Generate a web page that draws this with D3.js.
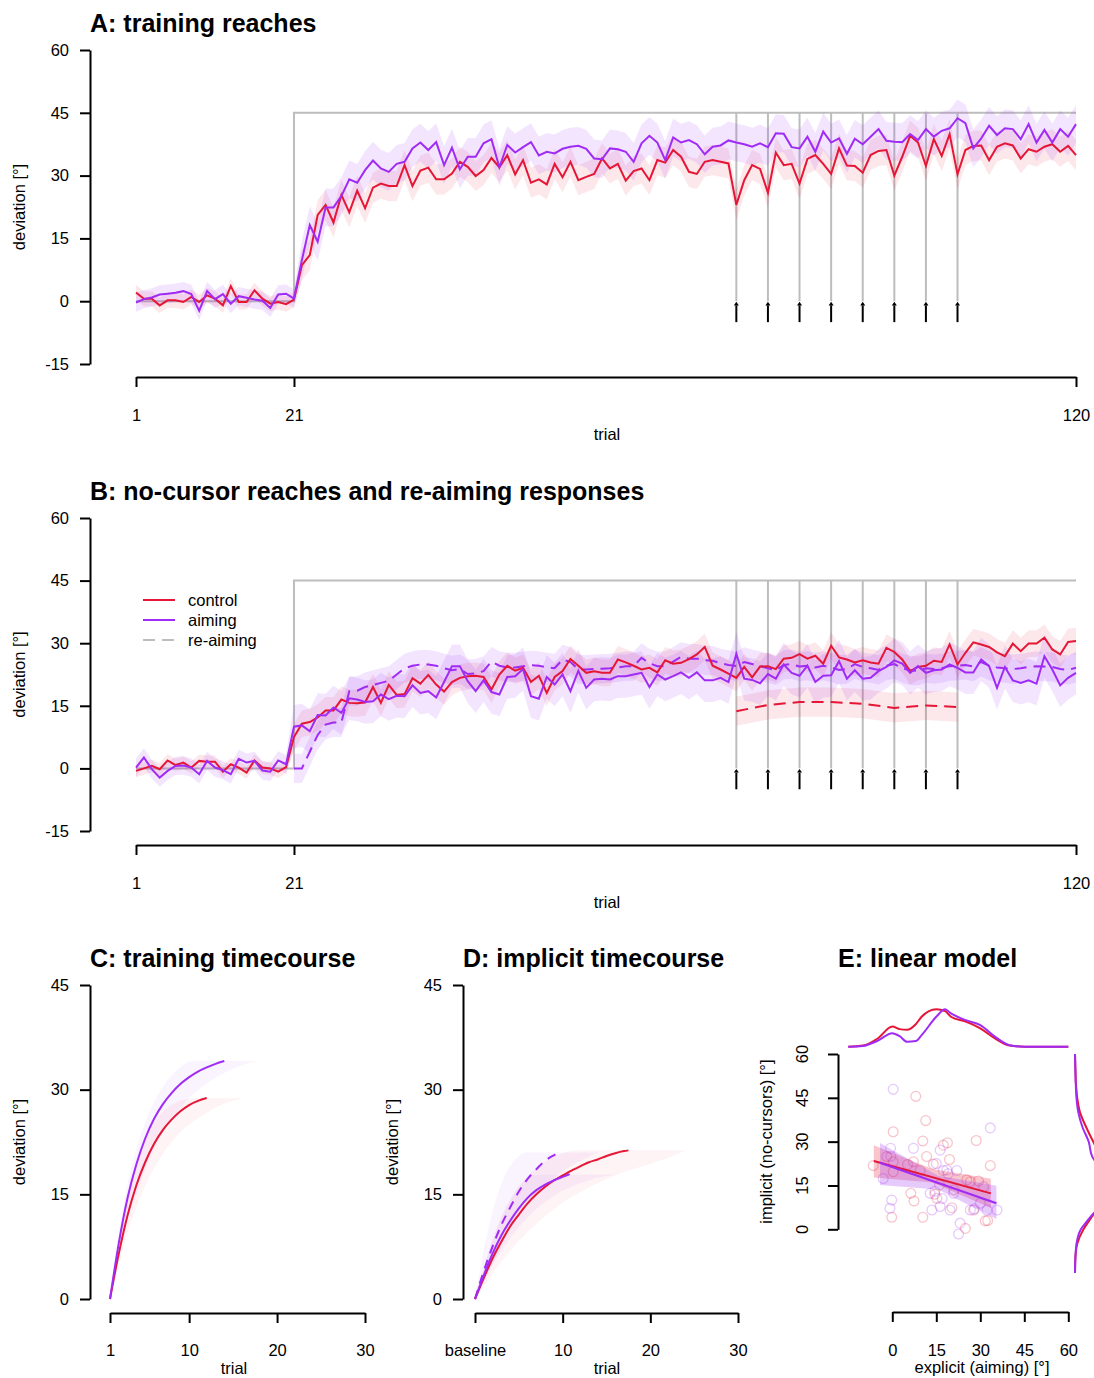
<!DOCTYPE html>
<html>
<head>
<meta charset="utf-8">
<script src="https://cdn.jsdelivr.net/npm/d3@7"></script>
<style>
body { margin: 0; background: #fff; }
svg { font-family: "Liberation Sans", Arial, Helvetica, sans-serif; }
</style>
</head>
<body>
<script>
var colRed = '#e51636', colPurple = '#a02bf5', colGrey = '#bdbdbd';

// ---- panels A & B: trial by trial ----
var trials = d3.range(1, 121);
var scheduleTrials = [1, 21, 21, 120];
var scheduleValues = [0, 0, 45, 45];
var probeTrials = [77, 81, 85, 89, 93, 97, 101, 105];

var redA = [2.1, 0.6, 0.6, -1.0, 0.2, 0.2, -0.2, 1.0, -0.2, 1.4, 0.6, -1.0, 3.6, -0.2, -0.2, 2.6, 0.6, -0.6, -0.2, -0.7,
  0.4, 8.6, 11.0, 20.6, 23.0, 18.8, 25.4, 21.2, 26.4, 22.2, 27.1, 28.1, 27.5, 27.5, 32.5, 27.5, 31.2, 31.9, 29.1, 29.1,
  30.5, 33.3, 32.1, 29.9, 31.3, 34.2, 32.0, 34.9, 30.3, 33.7, 28.3, 29.1, 27.9, 32.8, 29.6, 33.3, 28.9, 29.7, 30.4, 34.1,
  31.7, 32.8, 28.8, 31.1, 31.7, 28.9, 33.7, 33.1, 36.1, 34.5, 30.9, 30.4, 33.3, 33.7, 33.3, 32.9, 23.0, 28.9, 32.5, 31.6,
  25.9, 35.5, 32.5, 32.8, 28.1, 34.0, 34.9, 32.8, 30.4, 36.5, 32.4, 32.3, 30.7, 34.9, 35.9, 36.1, 30.0, 34.5, 39.5, 37.9,
  32.3, 38.7, 34.7, 39.9, 30.3, 36.1, 37.1, 37.2, 33.7, 36.9, 37.7, 37.2, 34.1, 36.3, 35.7, 36.9, 37.5, 35.7, 37.1, 34.9];
var purpleA = [-0.3, 0.5, 0.9, 1.6, 1.8, 2.0, 2.4, 1.7, -2.3, 2.4, 0.5, 1.7, -0.6, 1.2, 0.8, 0.4, 0.1, -1.6, 1.6, 1.8,
  0.6, 9.8, 18.2, 14.2, 22.4, 22.4, 25.1, 29.1, 28.3, 31.3, 33.6, 31.7, 30.9, 32.8, 33.3, 36.5, 37.9, 36.1, 38.0, 32.5,
  36.7, 31.5, 34.5, 34.5, 37.7, 38.7, 32.0, 37.3, 35.5, 36.8, 38.0, 34.8, 35.7, 35.3, 36.4, 36.9, 37.1, 36.4, 34.1, 33.9,
  36.5, 36.3, 35.7, 33.3, 37.7, 39.5, 37.9, 33.7, 39.1, 37.9, 38.5, 37.5, 35.1, 36.9, 37.2, 38.4, 37.9, 37.5, 36.9, 37.7,
  36.8, 40.1, 40.0, 36.8, 36.5, 39.3, 35.7, 40.5, 37.9, 38.9, 35.2, 38.8, 37.5, 39.3, 41.1, 38.3, 38.1, 38.0, 39.9, 38.5,
  41.1, 39.3, 40.7, 41.3, 43.7, 42.5, 36.5, 38.9, 41.9, 39.7, 41.3, 41.1, 38.7, 42.3, 37.9, 40.9, 37.9, 41.1, 39.3, 42.3];

var redB = [-0.6, 0, 0.6, -0.2, 1.9, 0.8, 1.4, 0.2, 1.8, 1.6, 1.6, -0.8, 1.0, 0.2, -1.0, 1.9, 0.2, 0, -0.8, 0.3,
  7.5, 10.7, 11.1, 12.2, 13.9, 13.9, 16.5, 15.7, 15.6, 15.8, 19.5, 15.7, 20.0, 17.6, 17.8, 21.6, 20.3, 22.4, 20.1, 18.4,
  20.7, 21.7, 22.1, 22.2, 21.9, 18.9, 22.5, 24.6, 23.4, 24.1, 20.7, 22.2, 18.1, 21.9, 23.3, 26.2, 24.6, 22.9, 23.3, 22.9,
  22.9, 26.1, 25.4, 24.6, 23.7, 24.1, 23.0, 25.9, 25.1, 25.3, 26.2, 27.3, 29.1, 24.6, 23.7, 22.7, 21.7, 24.3, 21.8, 24.4,
  24.5, 23.8, 26.3, 26.5, 27.4, 26.3, 27.0, 25.1, 29.4, 26.6, 26.1, 25.4, 25.9, 25.4, 25.1, 28.9, 27.9, 26.1, 23.3, 24.3,
  24.6, 25.8, 25.5, 29.7, 24.9, 27.7, 30.2, 29.7, 29.1, 27.8, 26.9, 29.9, 28.1, 29.9, 29.9, 31.3, 28.5, 27.3, 30.3, 30.5];
var purpleB = [0.2, 2.6, -0.2, -2.2, -0.6, 0.6, 0.7, 0.2, -1.4, 1.8, 0.2, -0.4, -1.4, 2.3, 1.4, 1.8, -0.5, -0.8, 1.9, 1.0,
  10.0, 10.3, 8.9, 12.8, 12.7, 14.6, 13.3, 16.8, 16.5, 15.9, 16.1, 17.7, 16.6, 17.4, 17.3, 19.9, 18.1, 18.5, 17.0, 20.7,
  24.5, 24.5, 20.9, 18.5, 21.1, 18.3, 17.7, 21.9, 22.1, 23.8, 17.3, 16.7, 21.9, 20.1, 22.5, 18.5, 23.4, 19.3, 21.3, 21.5,
  21.3, 22.1, 22.1, 22.5, 22.9, 19.5, 22.5, 21.3, 22.1, 23.0, 21.7, 23.0, 21.1, 21.1, 21.7, 20.7, 27.4, 21.5, 21.2, 20.4,
  22.6, 21.5, 24.9, 22.9, 22.2, 24.6, 20.7, 22.2, 22.3, 25.7, 21.5, 23.5, 21.5, 21.7, 23.3, 24.3, 25.9, 25.1, 22.9, 24.5,
  22.9, 23.5, 23.7, 24.9, 24.1, 23.0, 23.0, 26.1, 24.5, 19.3, 24.3, 21.1, 20.5, 21.1, 20.3, 26.9, 23.7, 19.9, 21.7, 22.9];

// re-aiming responses
var aimTrialsB = d3.range(21, 121);
var aimPurpleB = [0, 0, 4.0, 8.0, 10.5, 11.0, 11.0, 18.5, 18.6, 19.5, 20.0, 20.5, 21.0, 22.5, 24.0, 24.6, 24.9, 24.9, 24.6, 24.0,
  23.5, 23.8, 22.6, 22.8, 23.3, 25.6, 24.6, 24.2, 24.2, 24.5, 24.7, 24.6, 24.2, 24.0, 26.1, 25.5, 23.7, 23.7, 23.8, 23.9,
  24.0, 24.2, 24.5, 24.5, 26.5, 25.2, 24.5, 24.5, 25.6, 26.7, 26.3, 26.3, 25.9, 25.8, 25.2, 24.8, 24.5, 25.5, 25.0, 24.5,
  24.0, 23.5, 24.8, 25.0, 24.4, 24.6, 24.2, 24.6, 24.2, 23.6, 23.8, 25.0, 24.3, 24.0, 23.6, 24.6, 25.0, 24.0, 23.5, 23.4,
  24.0, 23.8, 24.0, 24.5, 24.6, 24.8, 24.4, 25.5, 24.6, 24.2, 24.0, 23.8, 24.0, 24.3, 24.5, 24.4, 24.3, 23.8, 23.6, 24.1];
var aimRedB = [13.7, 15.2, 15.9, 15.9, 15.5, 14.5, 15.1, 14.7];

// confidence half widths: [first trial, half width]
var ciRedA = [[1, 1.8], [22, 3.6]];
var ciPurpleA = [[1, 2.2], [22, 4.5]];
var ciRedB = [[1, 1.5], [21, 3.2]];
var ciPurpleB = [[1, 2.2], [21, 5.2]];
var ciAimPurpleB = [[21, 3.5]];
var ciAimRedB = [[77, 3.5]];

// ---- panel C: training timecourse fits ----
var trialsRedC = d3.range(1, 13);
var redC = [0, 6.5, 12, 16.3, 19.6, 22.2, 24.2, 25.7, 26.9, 27.8, 28.4, 28.8];
var trialsPurpleC = d3.range(1, 15);
var purpleC = [0, 8, 14.5, 19.3, 23, 25.8, 27.9, 29.5, 30.8, 31.8, 32.6, 33.2, 33.7, 34.1];
var bandTrialsRedC = d3.range(1, 17);
var redCHi = [0, 8.5, 15, 19.5, 22.8, 25.2, 26.8, 27.8, 28.4, 28.7, 28.8, 28.8, 28.8, 28.8, 28.8, 28.8];
var redCLo = [0, 5, 9.5, 13.2, 16.2, 18.7, 20.8, 22.5, 23.9, 25.0, 25.9, 26.7, 27.4, 28.0, 28.4, 28.8];
var bandTrialsPurpleC = d3.range(1, 19);
var purpleCHi = [0, 9.5, 16.5, 21.5, 25.3, 28.2, 30.4, 32.0, 33.2, 34.0, 34.1, 34.1, 34.1, 34.1, 34.1, 34.1, 34.1, 34.1];
var purpleCLo = [0, 6.5, 11.5, 15.0, 18.6, 21.5, 23.8, 25.8, 27.4, 28.8, 29.9, 30.9, 31.7, 32.4, 33.0, 33.5, 33.9, 34.1];

// ---- panel D: implicit timecourse fits ----
var trialsRedD = [0, 1, 2, 3, 4, 5, 6, 7, 8, 9, 10, 11, 12, 13, 14, 15, 16, 17, 17.5];
var redD = [0, 3.0, 5.8, 8.2, 10.4, 12.1, 13.7, 15.0, 16.1, 17.0, 17.7, 18.4, 19.0, 19.6, 20.0, 20.5, 20.9, 21.2, 21.3];
var trialsPurpleD = [0, 1, 2, 3, 4, 5, 6, 7, 8, 9, 10, 10.8];
var purpleD = [0, 3.4, 6.5, 9.1, 11.2, 13.0, 14.5, 15.6, 16.4, 17.0, 17.5, 17.9];
var trialsAimD = [0, 1, 2, 3, 4, 5, 6, 7, 8, 9, 9.6];
var aimPurpleD = [0, 4.0, 7.5, 10.6, 13.1, 15.4, 17.2, 18.6, 19.8, 20.6, 21.0];
var bandTrialsRedD = d3.range(0, 25);
var redDHi = [0, 4.5, 8.4, 11.5, 14.0, 16.0, 17.6, 18.8, 19.7, 20.4, 20.9, 21.2, 21.3, 21.3, 21.3, 21.3, 21.3, 21.3, 21.3, 21.3, 21.3, 21.3, 21.3, 21.3, 21.3];
var redDLo = [0, 1.8, 3.6, 5.3, 6.9, 8.3, 9.6, 10.8, 11.9, 12.9, 13.8, 14.6, 15.3, 16.0, 16.6, 17.2, 17.7, 18.2, 18.6, 19.0, 19.4, 19.8, 20.2, 20.7, 21.3];
var bandTrialsPurpleD = d3.range(0, 17);
var purpleDHi = [0, 4.5, 8.5, 11.8, 14.3, 16.2, 17.3, 17.8, 17.8, 17.8, 17.8, 17.8, 17.8, 17.8, 17.8, 17.8, 17.8];
var purpleDLo = [0, 2.5, 4.8, 6.9, 8.7, 10.3, 11.7, 12.9, 13.9, 14.8, 15.5, 16.1, 16.6, 17.0, 17.4, 17.6, 17.8];
var bandTrialsAimD = d3.range(0, 15);
var aimDHi = [0, 7, 12.5, 16.5, 19, 20.5, 21, 21, 21, 21, 21, 21, 21, 21, 21];
var aimDLo = [0, 2.5, 5, 7.5, 9.8, 11.8, 13.5, 15, 16.3, 17.4, 18.3, 19.1, 19.8, 20.4, 21.0];

// ---- panel E: explicit vs implicit ----
var redEx = [8.0, 0.3, 11.4, 10.4, 17.4, 18.8, 28.6, -6.5, -1.9, 0.3, 5.2, 7.2, 11.7, 14.0, 19.5, 33.4, 0.3, 9.5, 6.3, 7.4, -0.2, 10.4, 25.4, 29.4, 26.6, 15.2, 20.3, 24.9, 31.7, 27.7, 16.1, 32.5, 21.0, 14.5];
var redEy = [45.5, 33.4, 37.2, 30.2, 28.8, 29.6, 30.4, 21.8, 24.9, 23.1, 22.2, 23.1, 24.9, 22.3, 23.9, 21.8, 19.7, 20.1, 12.3, 9.7, 4.1, 4.1, 16.9, 16.5, 16.3, 10.6, 7.4, 0.3, 2.9, 6.6, 15.2, 3.0, 13.5, 12.0];
var purpleEx = [0.3, 33.4, -0.6, 7.2, 16.3, -3.1, -0.2, -0.8, 17.4, 18.6, 22.0, 12.9, 19.7, 23.1, 22.6, 26.6, 30.0, 32.3, 35.7, 13.5, 16.3, 20.9, 31.1, 15.0, 19.0, -0.5, 14.5, 17.0, 28.0];
var purpleEy = [47.9, 34.7, 27.7, 27.7, 27.1, 17.4, 10.0, 7.2, 20.1, 20.3, 20.1, 12.3, 6.6, 2.1, -1.6, 6.6, 8.9, 6.6, 6.6, 6.6, 7.8, 12.3, 14.6, 22.5, 19.0, 25.0, 13.0, 10.5, 7.0];
var regRedX = [-6.3, 33.6], regRedY = [23.4, 12.3];
var regPurpleX = [-4.2, 35.5], regPurpleY = [22.8, 8.9];
var regRedBandX = [-6.3, 13.6, 33.6], regRedBandLo = [17.7, 16.0, 7.3], regRedBandHi = [28.8, 20.6, 17.3];
var regPurpleBandX = [-4.2, 15.6, 35.5], regPurpleBandLo = [15.2, 13.6, 3.5], regPurpleBandHi = [29.5, 18.3, 14.9];
// marginal densities (relative height)
var densGrid = [-15, -10, -5, 0, 2.5, 5, 8, 10, 15, 18, 20, 25, 30, 35, 40, 45, 50, 55, 60];
var densExplicitRed = [0, 0.03, 0.22, 0.54, 0.47, 0.45, 0.6, 0.8, 1.0, 0.95, 0.8, 0.67, 0.49, 0.22, 0.03, 0, 0, 0, 0];
var densExplicitPurple = [0, 0.02, 0.16, 0.36, 0.28, 0.13, 0.15, 0.31, 0.8, 1.0, 0.89, 0.71, 0.58, 0.27, 0.04, 0, 0, 0, 0];
var densImplicitRed = [0, 0.01, 0.06, 0.23, 0.36, 0.5, 0.71, 0.85, 1.0, 0.96, 0.92, 0.7, 0.49, 0.3, 0.135, 0.06, 0.025, 0.01, 0];
var densImplicitPurple = [0, 0.01, 0.04, 0.16, 0.31, 0.47, 0.7, 0.85, 1.0, 0.85, 0.75, 0.46, 0.37, 0.2, 0.09, 0.04, 0.02, 0.01, 0];

var svg = d3.select('body').append('svg').attr('width', 1094).attr('height', 1378);
var textSize = 16.5;

function series(ts, vs) {
  return vs.map(function (v, i) { return { t: ts[i], v: v }; });
}

function ciAt(segs, t) {
  var w = segs[0][1];
  segs.forEach(function (s) { if (t >= s[0]) w = s[1]; });
  return w;
}

function styleAxis(g) {
  g.attr('font-size', textSize).attr('font-family', null);
  g.select('.domain').attr('stroke-width', 2);
  g.selectAll('.tick line').attr('stroke-width', 2);
  g.selectAll('.tick text').attr('fill', '#000');
}

function title(x, y, txt) {
  svg.append('text').attr('x', x).attr('y', y).attr('font-size', 25).attr('font-weight', 'bold').text(txt);
}

function ylabel(x, y, txt) {
  svg.append('text').attr('transform', 'translate(' + x + ',' + y + ') rotate(-90)')
    .attr('text-anchor', 'middle').attr('font-size', textSize).text(txt);
}

function xlabel(x, y, txt) {
  svg.append('text').attr('x', x).attr('y', y).attr('text-anchor', 'middle').attr('font-size', textSize).text(txt);
}

function trialPanel(p) {
  var x = d3.scaleLinear().domain([1, 120]).range([136, 1076]);
  var y = d3.scaleLinear().domain([-15, 60]).range([p.bottom, p.top]);
  var g = svg.append('g');
  var line = d3.line().x(function (d) { return x(d.t); }).y(function (d) { return y(d.v); });

  // rotation schedule and probe trials
  g.append('path').datum(series(scheduleTrials, scheduleValues)).attr('d', line)
    .attr('fill', 'none').attr('stroke', colGrey).attr('stroke-width', 2);
  probeTrials.forEach(function (t) {
    g.append('line').attr('x1', x(t)).attr('x2', x(t)).attr('y1', y(0)).attr('y2', y(45))
      .attr('stroke', colGrey).attr('stroke-width', 2);
    g.append('line').attr('x1', x(t)).attr('x2', x(t)).attr('y1', y(-5)).attr('y2', y(-1))
      .attr('stroke', '#000').attr('stroke-width', 2);
    g.append('path')
      .attr('d', 'M' + (x(t) - 2.5) + ',' + y(-1) + 'L' + x(t) + ',' + (y(-0.4) - 1) + 'L' + (x(t) + 2.5) + ',' + y(-1) + 'Z')
      .attr('fill', '#000');
  });

  p.series.forEach(function (s) {
    var d = series(s.t, s.v);
    g.append('path').datum(d)
      .attr('d', d3.area().x(function (e) { return x(e.t); })
        .y0(function (e) { return y(e.v - ciAt(s.ci, e.t)); })
        .y1(function (e) { return y(e.v + ciAt(s.ci, e.t)); }))
      .attr('fill', s.color).attr('fill-opacity', s.color === colRed ? 0.1 : 0.12);
  });
  p.series.forEach(function (s) {
    g.append('path').datum(series(s.t, s.v)).attr('d', line)
      .attr('fill', 'none').attr('stroke', s.color).attr('stroke-width', 2)
      .attr('stroke-dasharray', s.dash ? '12,7' : null);
  });

  svg.append('g').attr('transform', 'translate(90,0)')
    .call(d3.axisLeft(y).tickValues([-15, 0, 15, 30, 45, 60]).tickSize(10).tickPadding(11)
      .tickSizeOuter(0).tickFormat(String))
    .call(styleAxis);
  svg.append('g').attr('transform', 'translate(0,' + p.axisY + ')')
    .call(d3.axisBottom(x).tickValues([1, 21, 120]).tickSize(10).tickPadding(22)
      .tickSizeOuter(0).tickFormat(String))
    .call(styleAxis);

  title(90, p.titleY, p.title);
  ylabel(25, (p.top + p.bottom) / 2, 'deviation [°]');
  xlabel(607, p.axisY + 63, 'trial');
}

trialPanel({
  top: 50, bottom: 364, axisY: 377, titleY: 31.5, title: 'A: training reaches',
  series: [
    { t: trials, v: redA, ci: ciRedA, color: colRed },
    { t: trials, v: purpleA, ci: ciPurpleA, color: colPurple }
  ]
});

trialPanel({
  top: 518, bottom: 831, axisY: 845, titleY: 499.5, title: 'B: no-cursor reaches and re-aiming responses',
  series: [
    { t: aimTrialsB, v: aimPurpleB, ci: ciAimPurpleB, color: colPurple, dash: true },
    { t: trials, v: redB, ci: ciRedB, color: colRed },
    { t: trials, v: purpleB, ci: ciPurpleB, color: colPurple },
    { t: probeTrials, v: aimRedB, ci: ciAimRedB, color: colRed, dash: true }
  ]
});

// legend in B
var legend = [['control', colRed, null], ['aiming', colPurple, null], ['re-aiming', colGrey, '12,7']];
legend.forEach(function (l, i) {
  var ly = 600 + i * 20;
  svg.append('line').attr('x1', 143).attr('x2', 175).attr('y1', ly).attr('y2', ly)
    .attr('stroke', l[1]).attr('stroke-width', 2).attr('stroke-dasharray', l[2]);
  svg.append('text').attr('x', 188).attr('y', ly + 5.5).attr('font-size', textSize).text(l[0]);
});

// ---- C and D ----
function fitPanel(p) {
  var x = d3.scaleLinear().domain(p.xDomain).range(p.xRange);
  var y = d3.scaleLinear().domain([0, 45]).range([1299, 985]);
  var g = svg.append('g');
  var line = d3.line().curve(d3.curveMonotoneX)
    .x(function (d) { return x(d.t); }).y(function (d) { return y(d.v); });

  p.bands.forEach(function (b) {
    var d = b.t.map(function (t, i) { return { t: t, lo: b.lo[i], hi: b.hi[i] }; });
    g.append('path').datum(d)
      .attr('d', d3.area().curve(d3.curveMonotoneX).x(function (e) { return x(e.t); })
        .y0(function (e) { return y(e.lo); }).y1(function (e) { return y(e.hi); }))
      .attr('fill', b.color).attr('fill-opacity', 0.05);
  });
  p.lines.forEach(function (s) {
    g.append('path').datum(series(s.t, s.v)).attr('d', line)
      .attr('fill', 'none').attr('stroke', s.color).attr('stroke-width', 2)
      .attr('stroke-dasharray', s.dash ? '9,7' : null);
  });

  svg.append('g').attr('transform', 'translate(' + p.yAxisX + ',0)')
    .call(d3.axisLeft(y).tickValues([0, 15, 30, 45]).tickSize(10).tickPadding(11)
      .tickSizeOuter(0).tickFormat(String))
    .call(styleAxis);
  svg.append('g').attr('transform', 'translate(0,1313)')
    .call(d3.axisBottom(x).tickValues(p.xTicks).tickSize(10).tickPadding(21)
      .tickSizeOuter(0).tickFormat(function (d, i) { return p.xLabels[i]; }))
    .call(styleAxis);

  title(p.yAxisX, 966.5, p.title);
  ylabel(p.yAxisX - 65, 1142, 'deviation [°]');
  xlabel(p.trialX, 1374, 'trial');
}

fitPanel({
  title: 'C: training timecourse', yAxisX: 90, xDomain: [1, 30], xRange: [110, 365],
  xTicks: [1, 10, 20, 30], xLabels: ['1', '10', '20', '30'], trialX: 234,
  bands: [
    { t: bandTrialsPurpleC, lo: purpleCLo, hi: purpleCHi, color: colPurple },
    { t: bandTrialsRedC, lo: redCLo, hi: redCHi, color: colRed }
  ],
  lines: [
    { t: trialsRedC, v: redC, color: colRed },
    { t: trialsPurpleC, v: purpleC, color: colPurple }
  ]
});

fitPanel({
  title: 'D: implicit timecourse', yAxisX: 463, xDomain: [0, 30], xRange: [475, 738],
  xTicks: [0, 10, 20, 30], xLabels: ['baseline', '10', '20', '30'], trialX: 607,
  bands: [
    { t: bandTrialsAimD, lo: aimDLo, hi: aimDHi, color: colPurple },
    { t: bandTrialsPurpleD, lo: purpleDLo, hi: purpleDHi, color: colPurple },
    { t: bandTrialsRedD, lo: redDLo, hi: redDHi, color: colRed }
  ],
  lines: [
    { t: trialsAimD, v: aimPurpleD, color: colPurple, dash: true },
    { t: trialsRedD, v: redD, color: colRed },
    { t: trialsPurpleD, v: purpleD, color: colPurple }
  ]
});

// ---- E ----
var xE = d3.scaleLinear().domain([0, 60]).range([892.3, 1068.3]);
var yE = d3.scaleLinear().domain([0, 60]).range([1229.3, 1054]);
var gE = svg.append('g');

[[redEx, redEy, colRed], [purpleEx, purpleEy, colPurple]].forEach(function (s) {
  s[0].forEach(function (v, i) {
    gE.append('circle').attr('cx', xE(v)).attr('cy', yE(s[1][i])).attr('r', 4.9)
      .attr('fill', 'none').attr('stroke', s[2]).attr('stroke-opacity', 0.25).attr('stroke-width', 1.3);
  });
});

[[regRedBandX, regRedBandLo, regRedBandHi, colRed, 0.25], [regPurpleBandX, regPurpleBandLo, regPurpleBandHi, colPurple, 0.25]]
  .forEach(function (b) {
    var d = b[0].map(function (v, i) { return { x: v, lo: b[1][i], hi: b[2][i] }; });
    gE.append('path').datum(d)
      .attr('d', d3.area().x(function (e) { return xE(e.x); })
        .y0(function (e) { return yE(e.lo); }).y1(function (e) { return yE(e.hi); }))
      .attr('fill', b[3]).attr('fill-opacity', b[4]);
  });

[[regRedX, regRedY, colRed], [regPurpleX, regPurpleY, colPurple]].forEach(function (r) {
  gE.append('line').attr('x1', xE(r[0][0])).attr('y1', yE(r[1][0]))
    .attr('x2', xE(r[0][1])).attr('y2', yE(r[1][1]))
    .attr('stroke', r[2]).attr('stroke-width', 2);
});

// marginal densities
var xDens = d3.scaleLinear().domain([-15, 60]).range([848.3, 1068.3]);
var hDens = d3.scaleLinear().domain([0, 1]).range([1046.7, 1009.3]);
[[densExplicitRed, colRed], [densExplicitPurple, colPurple]].forEach(function (s) {
  gE.append('path').datum(series(densGrid, s[0]))
    .attr('d', d3.line().curve(d3.curveMonotoneX)
      .x(function (d) { return xDens(d.t); }).y(function (d) { return hDens(d.v); }))
    .attr('fill', 'none').attr('stroke', s[1]).attr('stroke-width', 2);
});
var yDens = d3.scaleLinear().domain([-15, 60]).range([1273, 1054]);
var wDens = d3.scaleLinear().domain([0, 1]).range([1075, 1112]);
[[densImplicitRed, colRed], [densImplicitPurple, colPurple]].forEach(function (s) {
  var d = series(densGrid, s[0]).reverse();
  gE.append('path').datum(d)
    .attr('d', d3.line().curve(d3.curveMonotoneY)
      .x(function (e) { return wDens(e.v); }).y(function (e) { return yDens(e.t); }))
    .attr('fill', 'none').attr('stroke', s[1]).attr('stroke-width', 2);
});

svg.append('g').attr('transform', 'translate(838,0)')
  .call(d3.axisLeft(yE).tickValues([0, 15, 30, 45, 60]).tickSize(10).tickSizeOuter(0).tickFormat(''))
  .call(styleAxis);
[0, 15, 30, 45, 60].forEach(function (v) {
  svg.append('text').attr('transform', 'translate(808,' + yE(v) + ') rotate(-90)')
    .attr('text-anchor', 'middle').attr('font-size', textSize).text(v);
});
svg.append('g').attr('transform', 'translate(0,1312)')
  .call(d3.axisBottom(xE).tickValues([0, 15, 30, 45, 60]).tickSize(10).tickPadding(22)
    .tickSizeOuter(0).tickFormat(String))
  .call(styleAxis);

title(838, 966.5, 'E: linear model');
ylabel(772, 1141.6, 'implicit (no-cursors) [°]');
xlabel(982, 1373, 'explicit (aiming) [°]');
</script>
</body>
</html>
